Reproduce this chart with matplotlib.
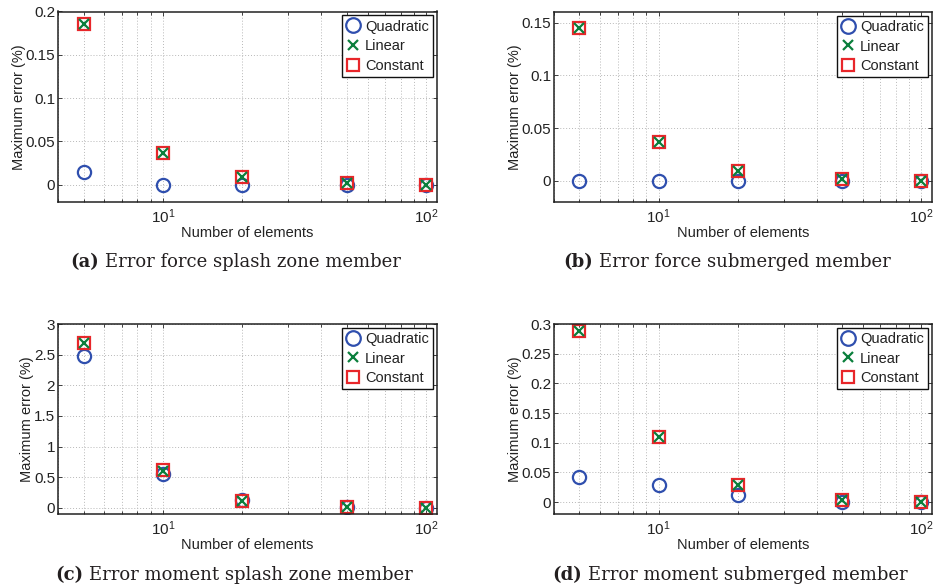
import numpy as np
import matplotlib
matplotlib.use('Agg')
import matplotlib.pyplot as plt
from matplotlib.ticker import FuncFormatter, LogLocator
from matplotlib.lines import Line2D

plt.rcParams['font.family'] = ['Liberation Sans', 'DejaVu Sans']
plt.rcParams['mathtext.default'] = 'regular'

# data
n_elem = [5, 10, 20, 50, 100]

quad_a = [0.0143, 0.0001, 0.0, 0.0002, 0.0001]
lin_a = [0.186, 0.0364, 0.0089, 0.0016, 0.0002]
const_a = [0.186, 0.0364, 0.0092, 0.0016, 0.0002]

quad_b = [0.0001, 0.0001, 0.0001, 0.0001, 0.0]
lin_b = [0.145, 0.0364, 0.0092, 0.0016, 0.0002]
const_b = [0.145, 0.0364, 0.0094, 0.0017, 0.0002]

quad_c = [2.47, 0.56, 0.13, 0.016, 0.002]
lin_c = [2.69, 0.605, 0.12, 0.016, 0.0]
const_c = [2.69, 0.61, 0.12, 0.018, 0.002]

quad_d = [0.0423, 0.0282, 0.0124, 0.001, 0.0]
lin_d = [0.288, 0.1094, 0.0293, 0.004, 0.0006]
const_d = [0.288, 0.1094, 0.0293, 0.004, 0.0006]

ylims = [(-0.02, 0.2), (-0.02, 0.16), (-0.1, 3), (-0.02, 0.3)]
yticks = [[0, 0.05, 0.1, 0.15, 0.2], [0, 0.05, 0.1, 0.15],
          [0, 0.5, 1, 1.5, 2, 2.5, 3],
          [0, 0.05, 0.1, 0.15, 0.2, 0.25, 0.3]]
tags = ['(a)', '(b)', '(c)', '(d)']
captions = ['Error force splash zone member', 'Error force submerged member',
            'Error moment splash zone member', 'Error moment submerged member']

blue = '#2f4fae'
green = '#0b7f3c'
red = '#e8262a'

W, H = 933, 587
fig = plt.figure(figsize=(W / 100, H / 100), dpi=100)

# axes boxes in pixels: left, top, right, bottom
boxes = [(58, 11.5, 437, 202), (554, 12, 932, 202),
         (58, 324, 437, 514), (554, 324, 932, 514)]
cap_left = [70, 563, 55, 552]
cap_y = [262, 262, 575, 575]

series = [(quad_a, lin_a, const_a), (quad_b, lin_b, const_b),
          (quad_c, lin_c, const_c), (quad_d, lin_d, const_d)]

for i in range(4):
    l, t, r, b = boxes[i]
    ax = fig.add_axes([l / W, 1 - b / H, (r - l) / W, (b - t) / H])
    q, li, c = series[i]
    ax.plot(n_elem, q, 'o', ms=9.5, mfc='none', mec=blue, mew=1.6, ls='none')
    ax.plot(n_elem, c, 's', ms=8.5, mfc='none', mec=red, mew=1.6, ls='none')
    ax.plot(n_elem, li, 'x', ms=6.5, mec=green, mew=1.6, ls='none')
    ax.set_xscale('log')
    ax.set_xlim(4, 110)
    ax.set_ylim(*ylims[i])
    ax.set_yticks(yticks[i])
    ax.yaxis.set_major_formatter(FuncFormatter(lambda v, p: '%g' % v))
    ax.xaxis.set_minor_locator(LogLocator(base=10, subs=np.arange(2, 10)))
    ax.tick_params(which='both', direction='in', top=True, right=True,
                   labelsize=11, length=3, width=0.6, colors='#222222',
                   labelcolor='#222222')
    ax.tick_params(which='minor', length=2)
    ax.tick_params(axis='y', pad=2)
    ax.tick_params(axis='x', pad=4)
    ax.grid(True, which='major', ls=(0, (1, 2)), color='#b8b8b8', lw=0.7)
    ax.grid(True, which='minor', axis='x', ls=(0, (1, 2)), color='#b8b8b8', lw=0.7)
    for s in ax.spines.values():
        s.set_linewidth(1.1)
        s.set_color('#222222')
    ax.set_xlabel('Number of elements', fontsize=10.5, labelpad=0, color='#222222')
    ax.set_ylabel('Maximum error (%)', fontsize=10.5, labelpad=0, color='#222222')

    handles = [Line2D([], [], marker='o', ms=10.5, mfc='none', mec=blue, mew=1.6, ls='none'),
               Line2D([], [], marker='x', ms=6.5, mec=green, mew=1.6, ls='none'),
               Line2D([], [], marker='s', ms=8.5, mfc='none', mec=red, mew=1.6, ls='none')]
    leg = ax.legend(handles, ['Quadratic', 'Linear', 'Constant'], loc='upper right',
                    fontsize=10.5, fancybox=False, edgecolor='#111111', framealpha=1,
                    borderaxespad=0.25, handlelength=1.0, handletextpad=0.3,
                    labelspacing=0.38, borderpad=0.3)
    leg.get_frame().set_linewidth(1.0)
    for txt in leg.get_texts():
        txt.set_color('#222222')

# captions: bold tag followed by regular text
fig.canvas.draw()
rend = fig.canvas.get_renderer()
for i in range(4):
    tt = fig.text(cap_left[i] / W, 1 - cap_y[i] / H, tags[i], fontsize=13,
                  family='DejaVu Serif', weight='bold', va='center', ha='left',
                  color='#231f20')
    ext = tt.get_window_extent(renderer=rend)
    fig.text((ext.x1 + 6) / W, 1 - cap_y[i] / H, captions[i], fontsize=13,
             family='DejaVu Serif', va='center', ha='left', color='#231f20')

fig.savefig('out.png', dpi=100)
